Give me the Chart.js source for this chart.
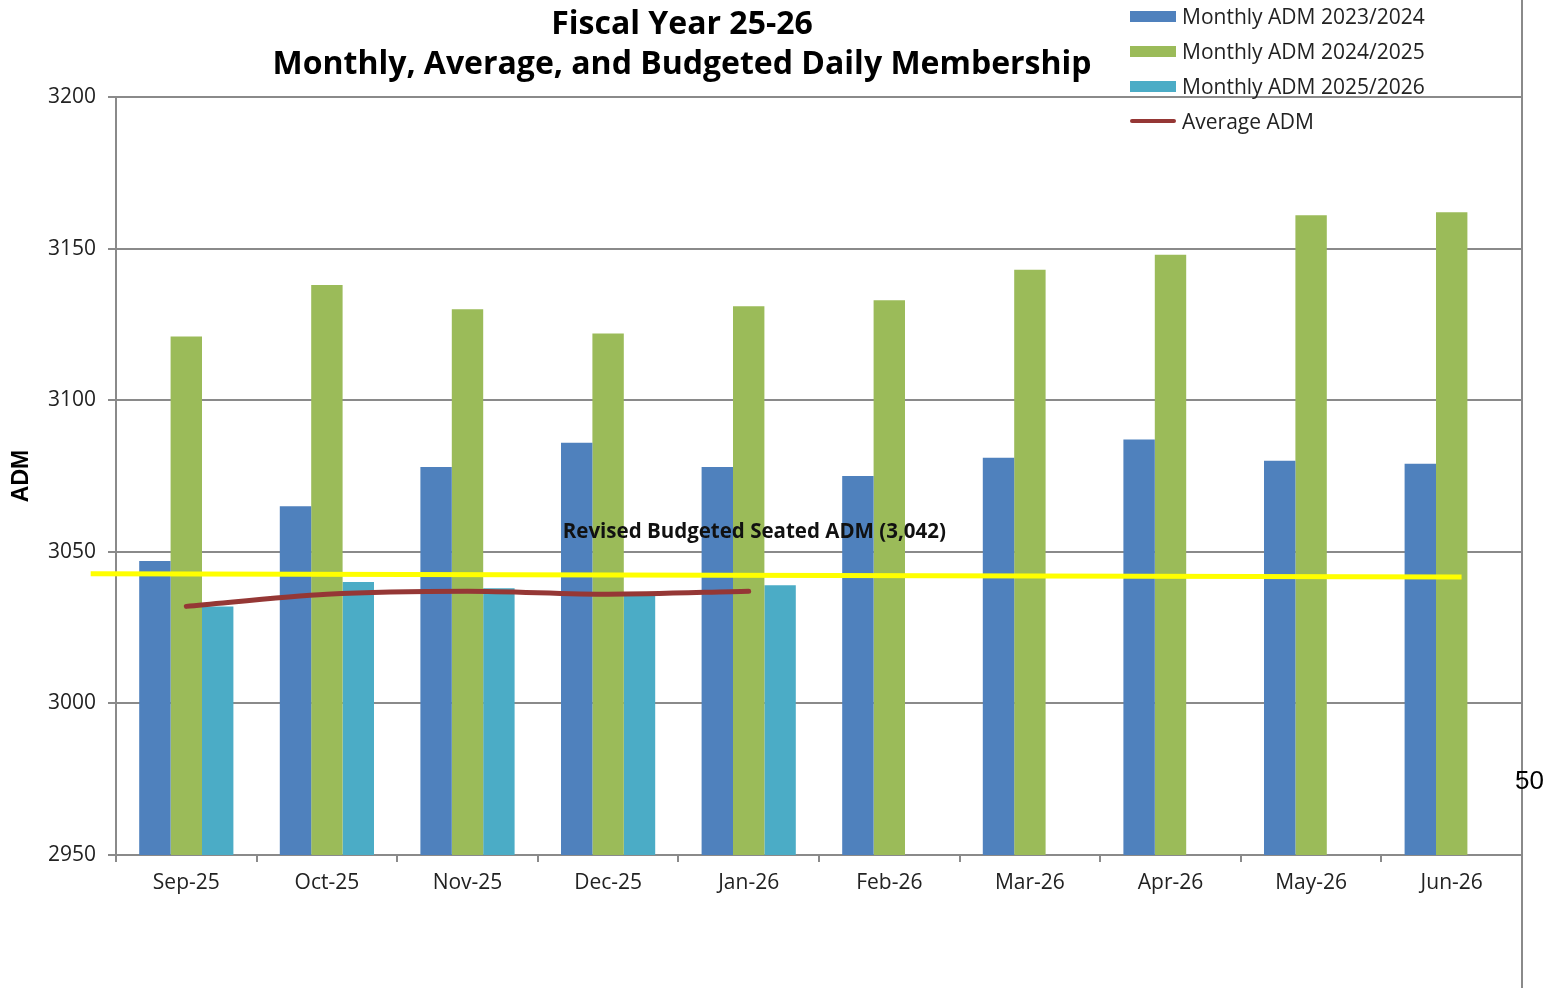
<!DOCTYPE html>
<html>
<head>
<meta charset="utf-8">
<script src="https://cdn.jsdelivr.net/npm/chart.js@4.4.1/dist/chart.umd.min.js"></script>
<style>
  body { margin: 0; background: #fff; }
  .wrap { position: relative; width: 1562px; height: 988px; }
  canvas { position: absolute; left: 0; top: 0; }
  .title { position: absolute; left: 232px; width: 900px; text-align: center; font-family: "Open Sans", sans-serif; font-weight: bold; font-size: 32px; color: #000; line-height: 40px; }
  .legend { position: absolute; left: 1130px; top: 0; font-family: "Open Sans", sans-serif; font-size: 21px; color: #222; }
  .legend .row { position: absolute; left: 0; height: 35px; white-space: nowrap; }
  .legend .sw { position: absolute; left: 0; width: 46px; }
  .legend .lbl { position: absolute; left: 52px; top: -14px; }
  .pagenum { position: absolute; left: 1515px; top: 765px; font-family: "Liberation Sans", Arial, sans-serif; font-size: 26px; color: #000; }
</style>
</head>
<body>
<div class="wrap">
  <canvas id="chart" width="1562" height="988"></canvas>
  <div class="title" style="top:2px">Fiscal Year 25-26</div>
  <div class="title" style="top:42px">Monthly, Average, and Budgeted Daily Membership</div>
  <div class="legend" id="legend"></div>
  <div class="pagenum">50</div>
</div>
<script>
const months = ["Sep-25", "Oct-25", "Nov-25", "Dec-25", "Jan-26", "Feb-26", "Mar-26", "Apr-26", "May-26", "Jun-26"];
const adm2324 = [3047, 3065, 3078, 3086, 3078, 3075, 3081, 3087, 3080, 3079];
const adm2425 = [3121, 3138, 3130, 3122, 3131, 3133, 3143, 3148, 3161, 3162];
const adm2526 = [3032, 3040, 3038, 3036, 3039, null, null, null, null, null];
const averageAdm = [3032, 3036, 3037, 3036, 3037, null, null, null, null, null];
const budgetLine = [3042.8, 3041.7];
const budgetLabel = "Revised Budgeted Seated ADM (3,042)";
const yTicks = [2950, 3000, 3050, 3100, 3150, 3200];

const colors = {
  blue: "#4f81bd",
  green: "#9bbb59",
  cyan: "#4bacc6",
  avg: "#953735",
  budget: "#ffff00",
  grid: "#8a8a8a",
};

// legend
const legendItems = [
  { label: "Monthly ADM 2023/2024", color: colors.blue, h: 11 },
  { label: "Monthly ADM 2024/2025", color: colors.green, h: 11 },
  { label: "Monthly ADM 2025/2026", color: colors.cyan, h: 11 },
  { label: "Average ADM", color: colors.avg, h: 4 },
];
const legend = document.getElementById("legend");
legendItems.forEach((item, i) => {
  const row = document.createElement("div");
  row.className = "row";
  row.style.top = (16 + i * 35) + "px";
  row.innerHTML = `<div class="sw" style="background:${item.color};height:${item.h}px;top:${-item.h / 2}px;${item.h < 6 ? "border-radius:2px;" : ""}"></div><div class="lbl">${item.label}</div>`;
  legend.appendChild(row);
});

// budget line, label and right frame line
const extras = {
  id: "extras",
  afterDatasetsDraw(chart) {
    const { ctx, chartArea } = chart;
    const x = chart.scales.x;
    const y = chart.scales.y;
    ctx.save();
    ctx.strokeStyle = colors.budget;
    ctx.lineWidth = 5;
    ctx.beginPath();
    ctx.moveTo(x.getPixelForValue(-0.68), y.getPixelForValue(budgetLine[0]));
    ctx.lineTo(x.getPixelForValue(9.07), y.getPixelForValue(budgetLine[1]));
    ctx.stroke();

    ctx.fillStyle = "#111";
    ctx.font = "bold 20.5px 'Open Sans', sans-serif";
    ctx.textAlign = "center";
    ctx.textBaseline = "middle";
    ctx.fillText(budgetLabel, x.getPixelForValue(4.04), y.getPixelForValue(3056.5));

    ctx.strokeStyle = colors.grid;
    ctx.lineWidth = 2;
    ctx.beginPath();
    ctx.moveTo(chartArea.right, 0);
    ctx.lineTo(chartArea.right, chart.height);
    ctx.stroke();
    ctx.restore();
  },
};

new Chart(document.getElementById("chart"), {
  data: {
    labels: months,
    datasets: [
      {
        type: "line",
        label: "Average ADM",
        data: averageAdm,
        borderColor: colors.avg,
        borderWidth: 5,
        pointRadius: 0,
        tension: 0.3,
        borderCapStyle: "round",
        spanGaps: false,
        order: 0,
      },
      { type: "bar", label: "Monthly ADM 2023/2024", data: adm2324, backgroundColor: colors.blue, order: 1 },
      { type: "bar", label: "Monthly ADM 2024/2025", data: adm2425, backgroundColor: colors.green, order: 1 },
      { type: "bar", label: "Monthly ADM 2025/2026", data: adm2526, backgroundColor: colors.cyan, order: 1 },
    ],
  },
  options: {
    responsive: false,
    animation: false,
    datasets: {
      bar: { categoryPercentage: 0.67, barPercentage: 1.0 },
    },
    layout: { padding: { top: 97, right: 40, left: 0, bottom: 0 } },
    plugins: {
      legend: { display: false },
      tooltip: { enabled: false },
    },
    scales: {
      x: {
        offset: true,
        grid: { drawOnChartArea: false, color: colors.grid, lineWidth: 2, tickLength: 7, offset: true },
        border: { color: colors.grid, width: 2 },
        ticks: { color: "#222", font: { family: "'Open Sans', sans-serif", size: 21 }, padding: 8, maxRotation: 0 },
        afterFit(scale) { scale.height = 133; },
      },
      y: {
        min: 2950,
        max: 3200,
        afterBuildTicks(scale) { scale.ticks = yTicks.map((v) => ({ value: v })); },
        grid: { color: colors.grid, lineWidth: 2, tickLength: 8 },
        border: { color: colors.grid, width: 2 },
        ticks: {
          color: "#222",
          font: { family: "'Open Sans', sans-serif", size: 21 },
          padding: 12,
          callback: (v) => String(v),
        },
        title: { display: true, text: "ADM", color: "#000", font: { family: "'Liberation Sans', Arial, sans-serif", size: 23, weight: "bold" }, padding: { top: 8, bottom: 0 } },
        afterFit(scale) { scale.width = 116; },
      },
    },
  },
  plugins: [extras],
});
</script>
</body>
</html>
